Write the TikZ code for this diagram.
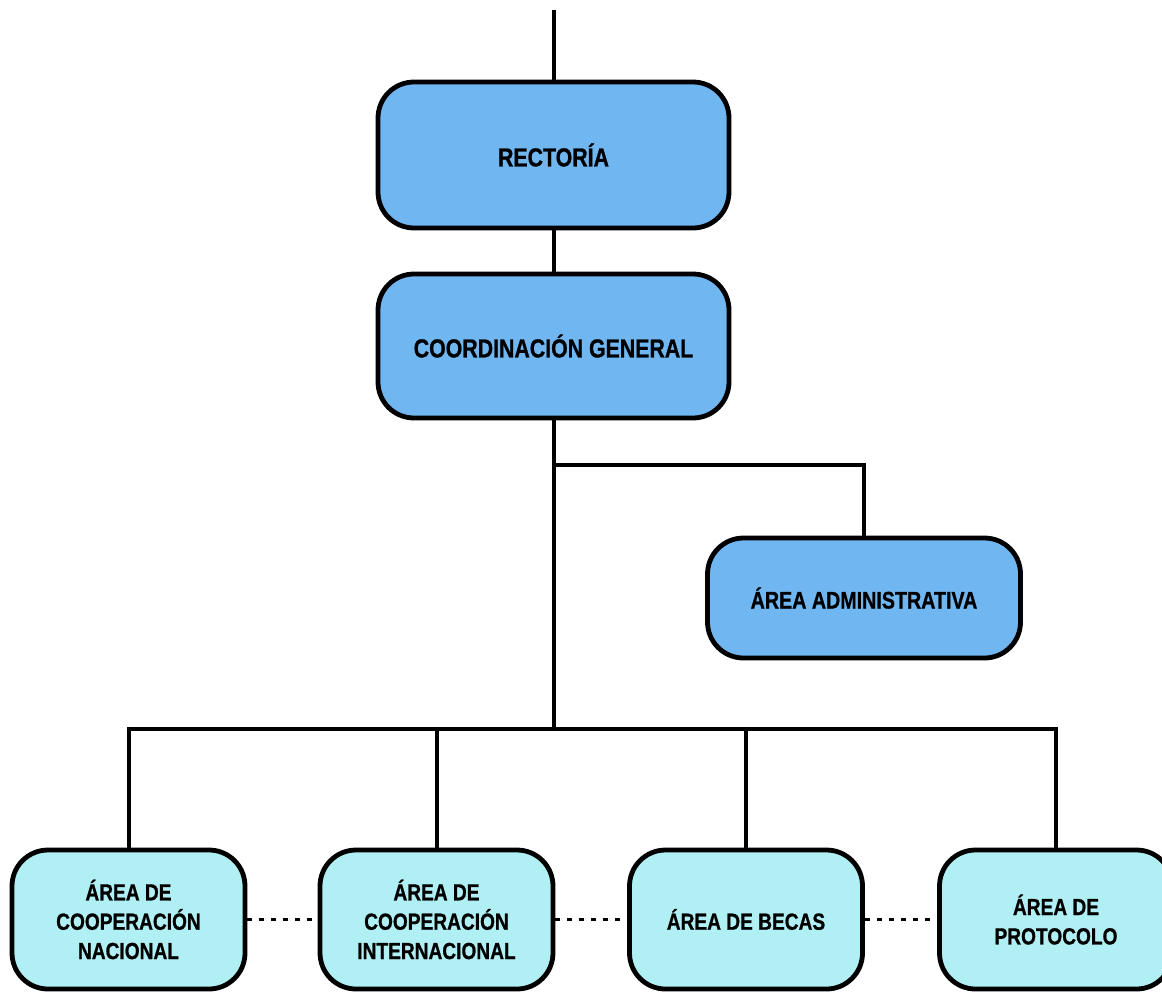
\documentclass[tikz,border=0pt]{standalone}
\usepackage{fontspec}
\setmainfont{Liberation Sans}[FakeStretch=0.82,BoldFeatures={FakeBold=0.8}]
\definecolor{topblue}{RGB}{112,182,240}
\definecolor{lowcyan}{RGB}{176,239,243}
\begin{document}
\begin{tikzpicture}[x=0.75pt,y=-0.75pt,
  box/.style={draw=black,line width=3.6pt,rounded corners=27pt,align=center,
    font=\bfseries,inner sep=0pt},
  upper/.style={box,fill=topblue},
  lower/.style={box,fill=lowcyan,minimum width=233*0.75pt,minimum height=139*0.75pt,
    font=\bfseries\fontsize{17.5}{22}\selectfont},
  conn/.style={line width=3pt},
  dots/.style={line width=2.4pt,dash pattern=on 3.8pt off 5.2pt}]
\useasboundingbox (0,0) rectangle (1162,993);
\clip (0,0) rectangle (1162,993);
\node[upper,minimum width=351*0.75pt,minimum height=146*0.75pt,
  font=\bfseries\fontsize{19.5}{23}\selectfont] (rect) at (553.5,155) {RECTORÍA};
\node[upper,minimum width=351*0.75pt,minimum height=144*0.75pt,
  font=\bfseries\fontsize{19.5}{23}\selectfont] (coord) at (553.5,346) {COORDINACIÓN GENERAL};
\node[upper,minimum width=313*0.75pt,minimum height=120*0.75pt,
  font=\bfseries\fontsize{18}{22}\selectfont] (admin) at (864,598) {ÁREA ADMINISTRATIVA};
\node[lower] (n1) at (128.5,919.5) {ÁREA DE\\COOPERACIÓN\\NACIONAL};
\node[lower] (n2) at (436.5,919.5) {ÁREA DE\\COOPERACIÓN\\INTERNACIONAL};
\node[lower] (n3) at (746,919.5) {ÁREA DE BECAS};
\node[lower] (n4) at (1056,919.5) {ÁREA DE\\PROTOCOLO};
\coordinate (top) at (553.5,10);
\coordinate (j1) at (553.5,465);
\coordinate (bus) at (553.5,729);
\draw[conn] (top) -- (rect.north);
\draw[conn] (rect.south) -- (coord.north);
\draw[conn] (coord.south) -- (bus);
\draw[conn] (j1) -| (admin.north);
\draw[conn] (bus) -| (n1.north);
\draw[conn] (bus) -| (n4.north);
\draw[conn] (n2.north |- bus) -- (n2.north);
\draw[conn] (n3.north |- bus) -- (n3.north);
\draw[dots] (n1.east) -- (n2.west);
\draw[dots] (n2.east) -- (n3.west);
\draw[dots] (n3.east) -- (n4.west);
\end{tikzpicture}
\end{document}
